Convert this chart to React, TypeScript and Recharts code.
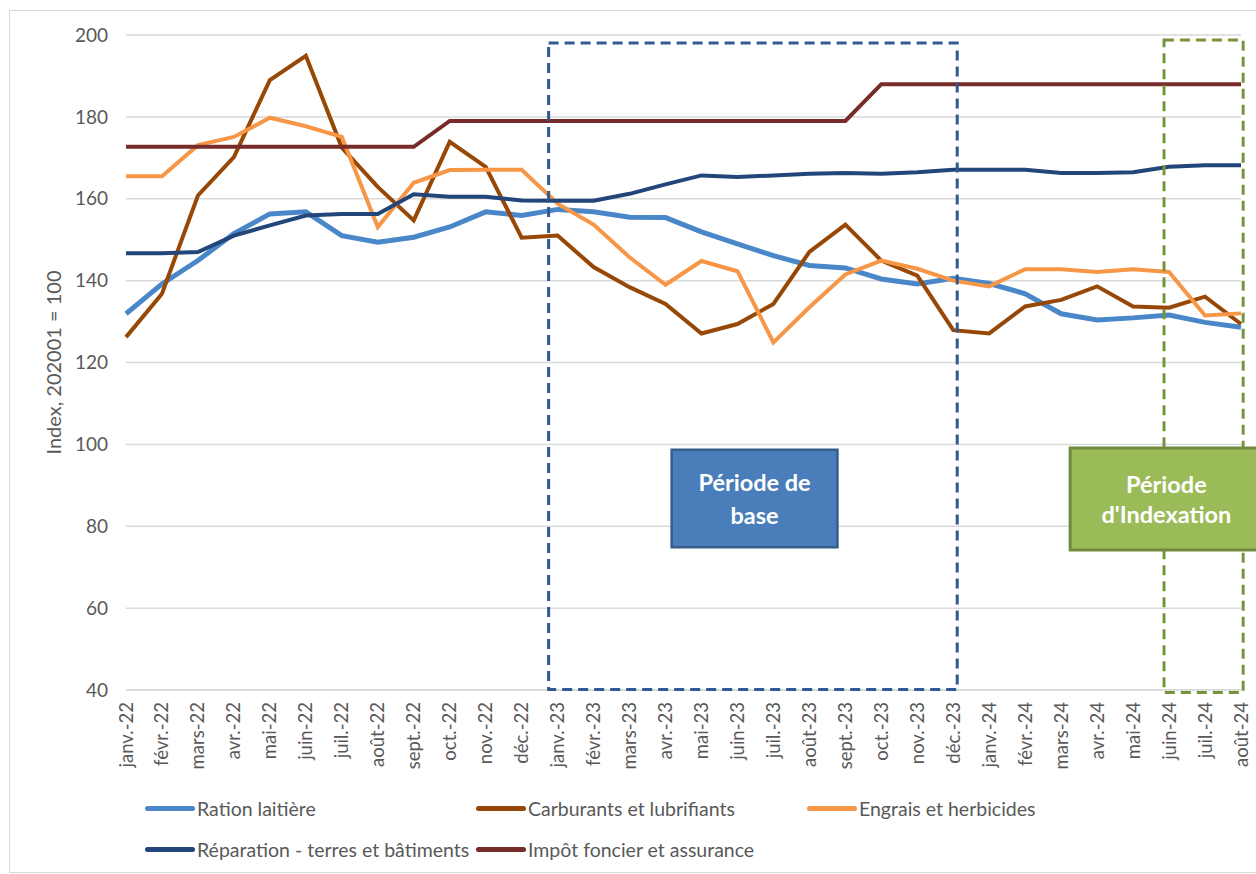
import React from 'react'
import {
  LineChart,
  Line,
  XAxis,
  YAxis,
  CartesianGrid,
  Legend,
  ReferenceArea
} from 'recharts'

const months = [
  'janv.-22', 'févr.-22', 'mars-22', 'avr.-22', 'mai-22', 'juin-22', 'juil.-22', 'août-22',
  'sept.-22', 'oct.-22', 'nov.-22', 'déc.-22', 'janv.-23', 'févr.-23', 'mars-23', 'avr.-23',
  'mai-23', 'juin-23', 'juil.-23', 'août-23', 'sept.-23', 'oct.-23', 'nov.-23', 'déc.-23',
  'janv.-24', 'févr.-24', 'mars-24', 'avr.-24', 'mai-24', 'juin-24', 'juil.-24', 'août-24'
]

const ration = [
  131.9, 139.2, 144.9, 151.5, 156.3, 156.8, 151, 149.4, 150.6, 153.1, 156.8, 155.9,
  157.4, 156.8, 155.5, 155.4, 151.9, 149, 146.1, 143.7, 143.1, 140.4, 139.2, 140.6,
  139.3, 136.8, 131.9, 130.4, 130.9, 131.6, 129.8, 128.6
]
const carburants = [
  126.2, 136.8, 160.8, 170.2, 189, 194.9, 172.5, 162.9, 154.7, 173.9, 167.8, 150.5,
  151, 143.3, 138.4, 134.3, 127.1, 129.4, 134.3, 147, 153.7, 144.9, 141.2, 127.9,
  127.1, 133.7, 135.3, 138.6, 133.7, 133.4, 136.1, 129.4
]
const engrais = [
  165.5, 165.5, 173.1, 175.1, 179.8, 177.7, 175.1, 153.1, 163.9, 167, 167.1, 167.1,
  158.8, 153.7, 145.7, 139, 144.8, 142.3, 124.9, 133.5, 141.5, 144.9, 142.9, 140,
  138.6, 142.8, 142.8, 142.1, 142.8, 142.1, 131.5, 132
]
const reparation = [
  146.7, 146.7, 147, 151, 153.5, 155.9, 156.3, 156.3, 161.1, 160.5, 160.5, 159.6,
  159.5, 159.5, 161.2, 163.5, 165.7, 165.3, 165.7, 166.1, 166.3, 166.1, 166.5, 167.1,
  167.1, 167.1, 166.3, 166.3, 166.5, 167.8, 168.2, 168.2
]
const impot = [
  172.7, 172.7, 172.7, 172.7, 172.7, 172.7, 172.7, 172.7, 172.7, 179, 179, 179,
  179, 179, 179, 179, 179, 179, 179, 179, 179, 188, 188, 188,
  188, 188, 188, 188, 188, 188, 188, 188
]

const yTicks = [40, 60, 80, 100, 120, 140, 160, 180, 200]

const series = [
  { key: 'ration', name: 'Ration laitière', color: '#4a87c8', width: 5 },
  { key: 'carburants', name: 'Carburants et lubrifiants', color: '#974806', width: 4 },
  { key: 'engrais', name: 'Engrais et herbicides', color: '#f79646', width: 4 },
  { key: 'reparation', name: 'Réparation - terres et bâtiments', color: '#23467a', width: 4 },
  { key: 'impot', name: 'Impôt foncier et assurance', color: '#772c2a', width: 4 }
]

const data = months.map((m, i) => ({
  idx: i,
  month: m,
  ration: ration[i],
  carburants: carburants[i],
  engrais: engrais[i],
  reparation: reparation[i],
  impot: impot[i]
}))

const FONT = 'Lato, "Open Sans", sans-serif'
const GREY = '#595959'

const MonthTick = (props: any) => {
  const { x, y, payload } = props
  return (
    <text
      transform={`translate(${x + 6.5}, ${y + 4}) rotate(-90)`}
      textAnchor='end'
      fill={GREY}
      fontSize={18.5}
      fontFamily={FONT}
    >
      {months[payload.value]}
    </text>
  )
}

const YLabel = (props: any) => {
  const vb = props.viewBox
  const cx = 53
  const cy = vb.y + vb.height / 2
  return (
    <text
      transform={`translate(${cx}, ${cy}) rotate(-90)`}
      textAnchor='middle'
      dominantBaseline='central'
      fill={GREY}
      fontSize={20}
      fontFamily={FONT}
    >
      Index, 202001 = 100
    </text>
  )
}

const boxLabel = (lines: string[], gap: number) => (props: any) => {
  const { x, y, width, height } = props.viewBox
  const cx = x + width / 2
  const cy = y + height / 2
  return (
    <g>
      {lines.map((l, i) => (
        <text
          key={i}
          x={cx}
          y={cy + (i - (lines.length - 1) / 2) * gap}
          textAnchor='middle'
          dominantBaseline='central'
          fill='#ffffff'
          fontWeight='bold'
          fontSize={23.5}
          fontFamily={FONT}
        >
          {l}
        </text>
      ))}
    </g>
  )
}

const LegendBox = () => (
  <div style={{ fontFamily: FONT, fontSize: 19.5, color: GREY }}>
    {[series.slice(0, 3), series.slice(3)].map((row, r) => (
      <div key={r} style={{ display: 'flex', height: 41, alignItems: 'center' }}>
        {row.map(s => (
          <div key={s.key} style={{ display: 'flex', alignItems: 'center', width: 331 }}>
            <div style={{ width: 50, height: 5, borderRadius: 3, background: s.color }} />
            <span style={{ marginLeft: 2, whiteSpace: 'nowrap' }}>{s.name}</span>
          </div>
        ))}
      </div>
    ))}
  </div>
)

export default function App() {
  return (
    <div style={{ position: 'absolute', left: 0, top: 0, width: 1256, height: 874, overflow: 'hidden', background: '#fff' }}>
      <div style={{ position: 'absolute', left: 9, top: 10, width: 1262, height: 861, border: '1.5px solid #d9d9d9' }} />
      <LineChart
        width={1256}
        height={874}
        data={data}
        margin={{ top: 35, right: 15, bottom: 84, left: 0 }}
        style={{ position: 'absolute', left: 0, top: 0 }}
      >
        <CartesianGrid vertical={false} stroke='#d9d9d9' strokeWidth={1.5} />
        <XAxis
          type='number'
          dataKey='idx'
          domain={[0, 31]}
          ticks={months.map((_, i) => i)}
          interval={0}
          height={100}
          tick={<MonthTick />}
          tickLine={false}
          axisLine={{ stroke: '#d9d9d9', strokeWidth: 1.5 }}
        />
        <YAxis
          domain={[40, 200]}
          ticks={yTicks}
          width={126}
          tickLine={false}
          axisLine={false}
          tickMargin={12}
          tick={{ fill: GREY, fontSize: 19, fontFamily: FONT }}
          label={YLabel}
        />
        {series.map(s => (
          <Line
            key={s.key}
            type='linear'
            dataKey={s.key}
            name={s.name}
            stroke={s.color}
            strokeWidth={s.width}
            dot={false}
            activeDot={false}
            isAnimationActive={false}
          />
        ))}
        <ReferenceArea
          x1={11.75}
          x2={23.11}
          y1={40.15}
          y2={198.05}
          fill='none'
          fillOpacity={0}
          stroke='#2f5a8f'
          strokeWidth={3}
          strokeDasharray='10 6'
          ifOverflow='visible'
          zIndex={1500}
        />
        <ReferenceArea
          x1={28.86}
          x2={31.06}
          y1={39.4}
          y2={198.8}
          fill='none'
          fillOpacity={0}
          stroke='#77933c'
          strokeWidth={3}
          strokeDasharray='10 6'
          ifOverflow='visible'
          zIndex={1500}
        />
        <ReferenceArea
          x1={15.17}
          x2={19.78}
          y1={74.9}
          y2={98.7}
          fill='#4a7ebb'
          fillOpacity={1}
          stroke='#385d8a'
          strokeWidth={2.5}
          ifOverflow='visible'
          zIndex={1600}
          label={boxLabel(['Période de', 'base'], 33)}
        />
        <ReferenceArea
          x1={26.25}
          x2={31.6}
          y1={74.2}
          y2={99.1}
          fill='#9bbb59'
          fillOpacity={1}
          stroke='#71893f'
          strokeWidth={3}
          ifOverflow='visible'
          zIndex={1600}
          label={boxLabel(['Période', "d'Indexation"], 30)}
        />
        <Legend
          verticalAlign='middle'
          align='center'
          layout='horizontal'
          content={<LegendBox />}
          wrapperStyle={{ position: 'absolute', left: 145, top: 788, width: 1100 }}
        />
      </LineChart>
    </div>
  )
}
